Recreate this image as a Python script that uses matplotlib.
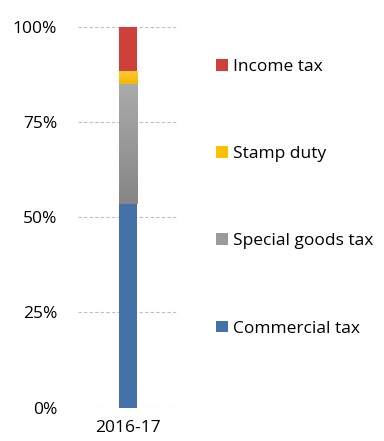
import matplotlib
matplotlib.use("Agg")
import matplotlib.pyplot as plt
import numpy as np
from matplotlib.patches import Patch
from matplotlib.colors import LinearSegmentedColormap

# data
period = ["2016-17"]
series = ["Commercial tax", "Special goods tax", "Stamp duty", "Income tax"]
shares = [53.5, 31.5, 3.3, 11.7]
colors = ["#4472a8", "#9b9b9b", "#ffc000", "#d0403b"]
grads = [None, ("#ababab", "#868686"), ("#ffca3a", "#f2b800"), None]  # (top, bottom)

plt.rcParams["font.family"] = ["Open Sans", "DejaVu Sans"]

fig = plt.figure(figsize=(3.84, 4.41), dpi=100)
ax = fig.add_axes([0.203, 0.0755, 0.26, 0.864])

x = np.arange(len(period))
bottom = 0.0
for name, val, col, g in zip(series, shares, colors, grads):
    bars = ax.bar(x, [val], width=0.185, bottom=bottom, color=col, label=name, zorder=3)
    if g is not None:
        # vertical gradient clipped to the bar
        cmap = LinearSegmentedColormap.from_list("g", [g[1], g[0]])
        r = bars[0]
        img = ax.imshow(np.linspace(0, 1, 100).reshape(-1, 1), cmap=cmap, origin="lower",
                        extent=[r.get_x(), r.get_x() + r.get_width(), bottom, bottom + val],
                        aspect="auto", zorder=4)
        img.set_clip_path(r)
    bottom += val

ax.set_xlim(-0.5, 0.5)
ax.set_ylim(0, 100)
ax.set_yticks([0, 25, 50, 75, 100])
ax.set_yticklabels(["0%", "25%", "50%", "75%", "100%"], fontsize=12.5)
ax.set_xticks(x)
ax.set_xticklabels(period, fontsize=12.5)
ax.tick_params(axis="y", length=0, pad=15)
ax.tick_params(axis="x", length=0, pad=9)
ax.grid(axis="y", color="#bfbfbf", linestyle=(0, (3, 2)), linewidth=0.8, zorder=0)
for s in ax.spines.values():
    s.set_visible(False)

handles = [Patch(facecolor=c, label=n) for n, c in zip(series, colors)][::-1]
fig.legend(handles=handles, loc="upper left", bbox_to_anchor=(0.545, 0.882),
           frameon=False, fontsize=12.5, handlelength=0.65, handleheight=0.65,
           handletextpad=0.3, labelspacing=4.1, borderaxespad=0)

fig.savefig("out.png", dpi=100)
